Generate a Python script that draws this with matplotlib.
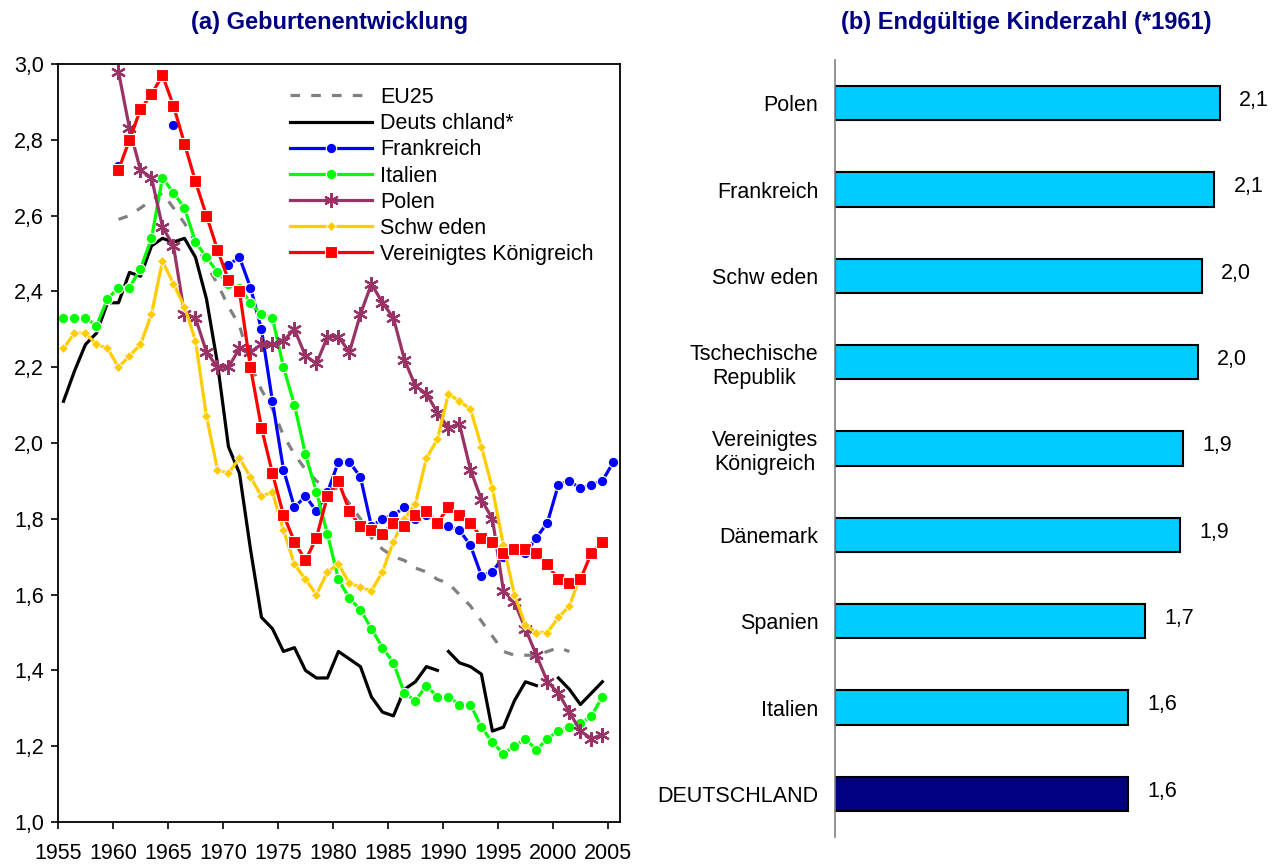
import numpy as np
import matplotlib
matplotlib.use('Agg')
import matplotlib.pyplot as plt
from matplotlib.ticker import FuncFormatter

plt.rcParams['font.family'] = ['Liberation Sans', 'DejaVu Sans']

nan = np.nan

# (a) Geburtenentwicklung - zusammengefasste Geburtenziffer
eu25_years = list(range(1960, 2002))
eu25 = [2.59, 2.60, 2.62, 2.64, 2.66, 2.62, 2.58, 2.53, 2.47, 2.42,
        2.36, 2.31, 2.21, 2.14, 2.09, 2.02, 1.97, 1.93, 1.90, 1.88,
        1.88, 1.84, 1.80, 1.75, 1.72, 1.70, 1.69, 1.67, 1.66, 1.64,
        1.63, 1.60, 1.57, 1.53, 1.49, 1.45, 1.44, 1.44, 1.44, 1.45,
        1.46, 1.45]

de_west_years = list(range(1955, 1990))
de_west = [2.11, 2.19, 2.26, 2.29, 2.37, 2.37, 2.45, 2.44, 2.52, 2.54,
           2.53, 2.54, 2.49, 2.38, 2.21, 1.99, 1.92, 1.72, 1.54, 1.51,
           1.45, 1.46, 1.40, 1.38, 1.38, 1.45, 1.43, 1.41, 1.33, 1.29,
           1.28, 1.35, 1.37, 1.41, 1.40]
de_years = list(range(1990, 2005))
de = [1.45, 1.42, 1.41, 1.39, 1.24, 1.25, 1.32, 1.37, 1.36, nan,
      1.38, 1.35, 1.31, 1.34, 1.37]

fr_years = list(range(1960, 2006))
fr = [2.73, nan, nan, nan, nan, 2.84, nan, nan, nan, nan,
      2.47, 2.49, 2.41, 2.30, 2.11, 1.93, 1.83, 1.86, 1.82, 1.87,
      1.95, 1.95, 1.91, 1.78, 1.80, 1.81, 1.83, 1.80, 1.81, 1.79,
      1.78, 1.77, 1.73, 1.65, 1.66, 1.70, 1.72, 1.71, 1.75, 1.79,
      1.89, 1.90, 1.88, 1.89, 1.90, 1.95]

it_years = list(range(1955, 2005))
it = [2.33, 2.33, 2.33, 2.31, 2.38, 2.41, 2.41, 2.46, 2.54, 2.70,
      2.66, 2.62, 2.53, 2.49, 2.45, 2.42, 2.41, 2.37, 2.34, 2.33,
      2.20, 2.10, 1.97, 1.87, 1.76, 1.64, 1.59, 1.56, 1.51, 1.46,
      1.42, 1.34, 1.32, 1.36, 1.33, 1.33, 1.31, 1.31, 1.25, 1.21,
      1.18, 1.20, 1.22, 1.19, 1.22, 1.24, 1.25, 1.26, 1.28, 1.33]

pl_years = list(range(1960, 2005))
pl = [2.98, 2.83, 2.72, 2.70, 2.57, 2.52, 2.34, 2.33, 2.24, 2.20,
      2.20, 2.25, 2.24, 2.26, 2.26, 2.27, 2.30, 2.23, 2.21, 2.28,
      2.28, 2.24, 2.34, 2.42, 2.37, 2.33, 2.22, 2.15, 2.13, 2.08,
      2.04, 2.05, 1.93, 1.85, 1.80, 1.61, 1.58, 1.51, 1.44, 1.37,
      1.34, 1.29, 1.24, 1.22, 1.23]

se_years = list(range(1955, 2003))
se = [2.25, 2.29, 2.29, 2.26, 2.25, 2.20, 2.23, 2.26, 2.34, 2.48,
      2.42, 2.36, 2.27, 2.07, 1.93, 1.92, 1.96, 1.91, 1.86, 1.87,
      1.77, 1.68, 1.64, 1.60, 1.66, 1.68, 1.63, 1.62, 1.61, 1.66,
      1.74, 1.80, 1.84, 1.96, 2.01, 2.13, 2.11, 2.09, 1.99, 1.88,
      1.73, 1.60, 1.52, 1.50, 1.50, 1.54, 1.57, 1.65]

uk_years = list(range(1960, 2005))
uk = [2.72, 2.80, 2.88, 2.92, 2.97, 2.89, 2.79, 2.69, 2.60, 2.51,
      2.43, 2.40, 2.20, 2.04, 1.92, 1.81, 1.74, 1.69, 1.75, 1.86,
      1.90, 1.82, 1.78, 1.77, 1.76, 1.79, 1.78, 1.81, 1.82, 1.79,
      1.83, 1.81, 1.79, 1.75, 1.74, 1.71, 1.72, 1.72, 1.71, 1.68,
      1.64, 1.63, 1.64, 1.71, 1.74]

tick_years = list(range(1955, 2006, 5))

# (b) Endgueltige Kinderzahl, Geburtsjahrgang 1961
laender = ['Polen', 'Frankreich', 'Schw eden', 'Tschechische\nRepublik',
           'Vereinigtes\nKönigreich', 'Dänemark', 'Spanien', 'Italien',
           'DEUTSCHLAND']
kinderzahl = [2.10, 2.07, 2.00, 1.98, 1.90, 1.88, 1.69, 1.60, 1.60]

W, H = 1272, 866
fig = plt.figure(figsize=(W / 100, H / 100), dpi=100)

# ---------- linke Grafik ----------
ax1 = fig.add_axes([58 / W, 44 / H, 562 / W, 758 / H])
lw = 2.3
ax1.plot(eu25_years, eu25, color='#808080', lw=lw, ls=(0, (3, 3.5)), label='EU25')
ax1.plot(de_west_years, de_west, color='black', lw=lw, label='Deuts chland*')
ax1.plot(de_years, de, color='black', lw=lw)
ax1.plot(fr_years, fr, color='#0000FF', lw=lw, marker='o', ms=7.5,
         mec='white', mew=0.8, label='Frankreich')
ax1.plot(it_years, it, color='#00FF00', lw=lw, marker='o', ms=7.5,
         mec='white', mew=0.8, label='Italien')
ax1.plot(pl_years, pl, color='#993366', lw=lw, marker=(6, 2, 0), ms=10.5,
         mec='#993366', mew=1.6, label='Polen')
ax1.plot(se_years, se, color='#FFCC00', lw=lw, marker='D', ms=5.5,
         mec='white', mew=0.6, label='Schw eden')
ax1.plot(uk_years, uk, color='#FF0000', lw=lw, marker='s', ms=8,
         mec='white', mew=0.8, label='Vereinigtes Königreich')

ax1.set_xlim(1954.5, 2005.6)
ax1.set_ylim(1.0, 3.0)
ax1.set_yticks(np.arange(1.0, 3.01, 0.2))
ax1.yaxis.set_major_formatter(FuncFormatter(lambda v, p: f'{v:.1f}'.replace('.', ',')))
ax1.set_xticks([y - 0.5 for y in tick_years])
ax1.set_xticklabels([str(y) for y in tick_years])
ax1.tick_params(direction='out', length=5, width=1.2, labelsize=15.5)
ax1.tick_params(axis='x', pad=10)
ax1.tick_params(axis='y', pad=5)
for s in ax1.spines.values():
    s.set_linewidth(1.3)

ax1.legend(loc='upper left', bbox_to_anchor=(290 / W, 1 - 87 / H),
           bbox_transform=fig.transFigure, frameon=False, fontsize=15.5,
           handlelength=3.8, handletextpad=0.4, labelspacing=0.24,
           borderpad=0, borderaxespad=0, numpoints=1)

# ---------- rechte Grafik ----------
ax2 = fig.add_axes([835 / W, 29 / H, 427 / W, 777 / H])
farben = ['#00CCFF'] * (len(laender) - 1) + ['#000080']
pos = np.arange(len(laender))
ax2.barh(pos, kinderzahl, height=0.4, color=farben, edgecolor='black', linewidth=1.5)
for p, v in zip(pos, kinderzahl):
    ax2.annotate(f'{v:.1f}'.replace('.', ','), xy=(v, p), xytext=(14, 2),
                 textcoords='offset points', va='center', ha='left', fontsize=15.5)
ax2.set_ylim(len(laender) - 0.5, -0.5)
ax2.set_xlim(0, 2.33)
ax2.set_yticks(pos)
ax2.set_yticklabels(laender, fontsize=15.5, multialignment='center')
ax2.set_xticks([])
ax2.tick_params(axis='y', length=0, pad=12)
for k in ['top', 'right', 'bottom']:
    ax2.spines[k].set_visible(False)
ax2.spines['left'].set_color('#808080')
ax2.spines['left'].set_linewidth(1.2)

fig.text(330 / W, 1 - 22 / H, '(a) Geburtenentwicklung', ha='center', va='center',
         fontsize=17, fontweight='bold', color='#000080')
fig.text(1026 / W, 1 - 22 / H, '(b) Endgültige Kinderzahl (*1961)', ha='center',
         va='center', fontsize=17, fontweight='bold', color='#000080')

fig.savefig('out.png', dpi=100)
